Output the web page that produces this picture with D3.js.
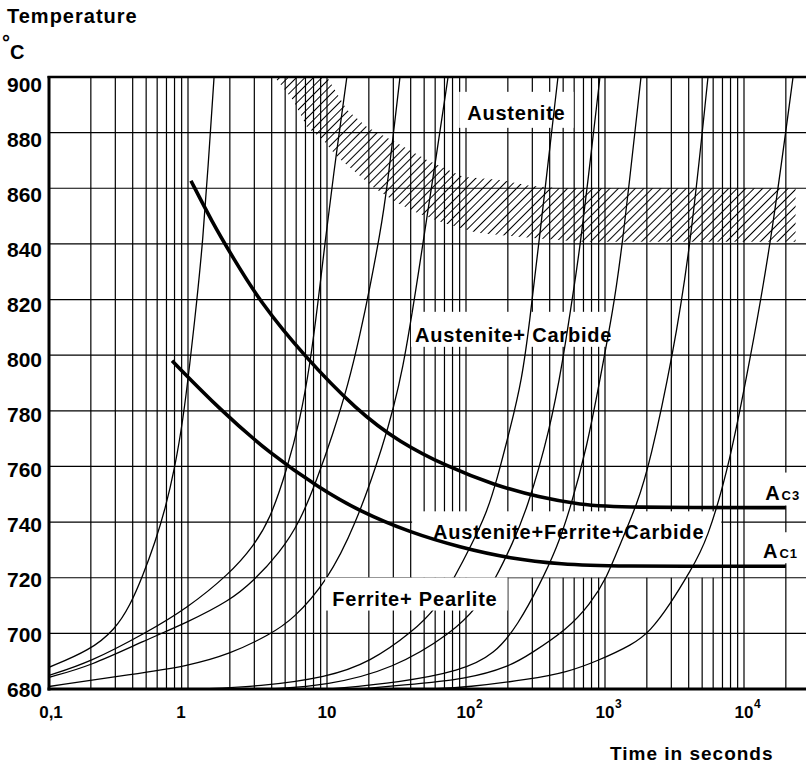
<!DOCTYPE html>
<html>
<head>
<meta charset="utf-8">
<script src="https://d3js.org/d3.v7.min.js"></script>
<style>
body, html {
    margin: 0;
    padding: 0;
    background: #fff;
}
svg {
    display: block;
    font-family: "Liberation Sans", Arial, sans-serif;
    font-weight: bold;
}
.grid line {
  stroke: #000;
  stroke-width: 1.2;
}
.thin {
  fill: none;
  stroke: #000;
  stroke-width: 1.3;
}
.thick {
  fill: none;
  stroke: #000;
  stroke-width: 3.6;
}
.lab {
  font-size: 20px;
  letter-spacing: 0.8px;
}
</style>
</head>

<body>
<div id="chart"></div>
<script>

var width = 806,
    height = 764;

// axis ticks
var tempTicks = [680, 700, 720, 740, 760, 780, 800, 820, 840, 860, 880, 900];
var timeTicks = [0.1, 1, 10, 100, 1000, 10000];
var timeBase = ["0,1", "1", "10", "10", "10", "10"];
var timeExp = ["", "", "", "2", "3", "4"];

// heating curves: [time in s, temperature in °C]
var curveA = [[0.1,687.8],[0.197,693.9],[0.299,701.4],[0.383,710.0],[0.474,720.8],[0.579,732.7],[0.684,744.5],[0.805,759.6],[0.921,776.8],[1.03,796.6],[1.16,819.9],[1.28,841.5],[1.39,866.6],[1.54,900]];
var curveB = [[0.1,684.9],[0.197,689.6],[0.491,700.0],[0.984,709.0],[2.0,721.5],[2.94,731.2],[3.89,740.9],[5.15,758.9],[6.4,776.8],[7.55,796.6],[8.61,818.9],[9.68,840.4],[11.0,863.0],[13.9,900]];
var curveC = [[0.1,684.2],[0.197,688.2],[0.491,697.5],[0.984,703.9],[2.0,711.8],[2.94,718.7],[4.59,729.1],[6.4,740.2],[8.47,755.3],[11.0,771.5],[14.2,789.4],[17.3,807.4],[20.4,824.6],[24.0,843.3],[27.0,859.4],[33.5,900]];
var curveD = [[0.1,680.9],[0.402,685.3],[0.984,688.2],[2.0,692.5],[3.89,699.6],[5.69,705.0],[10,718.7],[15.9,738.4],[25.3,767.1],[35.2,793.0],[48.2,837.9],[59.8,868.4],[74.3,900]];
var curveE = [[1.2,680],[3.3,680.9],[10,684.2],[20.4,689.6],[41.6,700.7],[61.8,709.3],[83.4,720.5],[110,732.0],[142,743.8],[167,755.3],[207,773.2],[253,791.2],[288,812.7],[330,837.9],[459,900]];
var curveF = [[3.9,680],[10,681.3],[29.9,687.1],[80.5,700.4],[120,709.3],[167,720.5],[214,732.0],[275,744.5],[402,773.2],[499,798.4],[579,819.9],[661,837.9],[920,900]];
var curveG = [[10.5,680],[33.5,682.4],[90.6,686.4],[162,692.5],[237,703.2],[340,717.6],[452,730.9],[560,744.5],[743,767.1],[920,791.2],[1143,816.3],[1324,837.9],[1816,900]];
var curveH = [[17.3,680],[33.5,681.3],[102,683.5],[207,688.2],[288,692.5],[533,701.4],[780,710.4],[1033,720.1],[1282,732.0],[1698,746.3],[2109,761.4],[3083,800.2],[4093,837.9],[5508,900]];
var curveI = [[55.1,680],[102,680.6],[288,683.5],[533,686.0],[875,690.0],[1589,696.0],[2109,700.7],[2940,710.4],[4093,722.3],[5420,733.0],[7925,761.4],[11040,798.4],[15380,837.9],[22540,900]];

// transformation lines
var ac3 = [[1.05,862.7],[1.49,847.9],[2.11,835.0],[3.3,819.2],[6.71,800.2],[16.4,780.1],[33.5,768.6],[73,760.0],[156,753.5],[340,748.8],[661,746.3],[1282,745.2],[20000,745.2]];
var ac1 = [[0.768,798.0],[1.7,780.4],[3.89,764.6],[8.91,752.1],[17.3,743.8],[39.5,736.3],[90.6,730.9],[207,726.9],[499,724.8],[1033,724.1],[20000,724.1]];

// hatched austenitizing band
var bandUpper = [[10,900],[13.9,888.2],[19.4,882.0],[31.9,876.3],[52.4,870.2],[95.1,864.1],[176,863.0],[288,860.9],[474,860],[23500,860]];
var bandLower = [[4.2,900],[5.69,891.7],[7.18,882.0],[9.35,877.4],[11.8,871.3],[15.4,866.6],[21.4,860.5],[31.9,854.8],[44.4,851.2],[68.4,847.6],[120,844.0],[288,842.2],[661,840.8],[23500,840.8]];

var thinCurves = [curveA, curveB, curveC, curveD, curveE, curveF, curveG, curveH, curveI];

var plot = {left: 49, right: 806, top: 77, bottom: 689};

var x = d3.scaleLog().domain([0.1, 10000]).range([49, 744]);
var y = d3.scaleLinear().domain([680, 900]).range([689, 77]);
// tick labels sit a little off the grid towards the top
var yLab = d3.scaleLinear().domain([680, 900]).range([689, 84.5]);

var svg = d3.select('#chart').append('svg')
    .attr('width', width)
    .attr('height', height);

var defs = svg.append('defs');
defs.append('clipPath').attr('id', 'plotclip')
  .append('rect')
    .attr('x', plot.left).attr('y', plot.top)
    .attr('width', plot.right - plot.left).attr('height', plot.bottom - plot.top);

var pat = defs.append('pattern')
    .attr('id', 'hatch')
    .attr('patternUnits', 'userSpaceOnUse')
    .attr('width', 6).attr('height', 6)
    .attr('patternTransform', 'rotate(45)');
pat.append('line')
    .attr('x1', 0).attr('y1', 0).attr('x2', 0).attr('y2', 6)
    .attr('stroke', '#000').attr('stroke-width', 1.3)
    .attr('shape-rendering', 'crispEdges');

// grid
var vLines = [];
timeTicks.forEach(function(d) {
  for (var m = 1; m <= 9; m++) {
    var v = +(m * d).toPrecision(3);
    if (v > 0.1 && x(v) < plot.right) vLines.push(v);
  }
});

var grid = svg.append('g').attr('class', 'grid');
grid.selectAll('line.v').data(vLines).enter().append('line')
    .attr('class', 'v')
    .attr('x1', function(d) { return x(d); })
    .attr('x2', function(d) { return x(d); })
    .attr('y1', plot.top).attr('y2', plot.bottom);
grid.selectAll('line.h').data(tempTicks).enter().append('line')
    .attr('class', 'h')
    .attr('x1', plot.left).attr('x2', plot.right)
    .attr('y1', function(d) { return y(d); })
    .attr('y2', function(d) { return y(d); });

// hatched band
var bandPath = d3.line()
    .x(function(d) { return x(d[0]); })
    .y(function(d) { return y(d[1]); });
svg.append('path')
    .datum(bandUpper.concat(bandLower.slice().reverse()))
    .attr('clip-path', 'url(#plotclip)')
    .attr('fill', 'url(#hatch)')
    .attr('d', function(d) { return bandPath(d) + 'Z'; });

var boxesUnder = svg.append('g');

var line = d3.line()
    .x(function(d) { return x(d[0]); })
    .y(function(d) { return y(d[1]); })
    .curve(d3.curveBasis);

var curves = svg.append('g').attr('clip-path', 'url(#plotclip)');
curves.selectAll('path.thin').data(thinCurves).enter().append('path')
    .attr('class', 'thin')
    .attr('d', line);

var boxesOver = svg.append('g');

curves = svg.append('g').attr('clip-path', 'url(#plotclip)');
curves.selectAll('path.thick').data([ac3, ac1]).enter().append('path')
    .attr('class', 'thick')
    .attr('d', line);

// frame
svg.append('line').attr('x1', plot.left).attr('x2', plot.left)
    .attr('y1', plot.top - 1).attr('y2', plot.bottom + 1.5)
    .attr('stroke', '#000').attr('stroke-width', 3);
svg.append('line').attr('x1', plot.left - 1.5).attr('x2', plot.right)
    .attr('y1', plot.bottom).attr('y2', plot.bottom)
    .attr('stroke', '#000').attr('stroke-width', 3);
svg.append('line').attr('x1', plot.left - 1.5).attr('x2', plot.right)
    .attr('y1', plot.top).attr('y2', plot.top)
    .attr('stroke', '#000').attr('stroke-width', 2.4);

// axis labels
svg.selectAll('text.yt').data(tempTicks).enter().append('text')
    .attr('class', 'yt')
    .attr('x', 42)
    .attr('y', function(d) { return yLab(d) + 7.5; })
    .attr('text-anchor', 'end')
    .style('font-size', '21px')
    .text(function(d) { return d; });

var xt = svg.selectAll('g.xt').data(timeTicks).enter().append('g')
    .attr('class', 'xt');
xt.append('text')
    .attr('x', function(d, i) { return x(d) + (i == 1 ? -7 : (i == 0 ? 2 : 0)); })
    .attr('y', 718)
    .attr('text-anchor', 'middle')
    .style('font-size', '17px')
    .text(function(d, i) { return timeBase[i]; });
xt.append('text')
    .attr('x', function(d) { return x(d) + 10; })
    .attr('y', 708)
    .style('font-size', '12px')
    .text(function(d, i) { return timeExp[i]; });

svg.append('text').attr('x', 7).attr('y', 23)
    .style('font-size', '20px').style('letter-spacing', '1px')
    .text('Temperature');
var unit = svg.append('text').attr('x', 2).attr('y', 59)
    .style('font-size', '20px');
unit.append('tspan').attr('dy', -10).text('°');
unit.append('tspan').attr('dy', 10).text('C');
svg.append('text').attr('x', 610).attr('y', 760)
    .style('font-size', '19px').style('letter-spacing', '1px')
    .text('Time in seconds');

// region labels, with white boxes that break the grid
// pad = [top, right, bottom, left]
var regions = [
  {text: 'Austenite', t: 102, T: 884.6, pad: [10, 8, 4, 8], over: false},
  {text: 'Austenite+ Carbide', t: 43, T: 804.8, pad: [12, 8, 1, 4], over: false},
  {text: 'Austenite+Ferrite+Carbide', t: 58, T: 733.8, pad: [10, 17, 34, 21], over: false},
  {text: 'Ferrite+ Pearlite', t: 10.9, T: 710, pad: [10, 10, 1, 7], over: true}
];

regions.forEach(function(r) {
  var tx = svg.append('text').attr('class', 'lab')
      .attr('x', x(r.t)).attr('y', y(r.T))
      .text(r.text);
  var bb = tx.node().getBBox();
  (r.over ? boxesOver : boxesUnder).append('rect')
      .attr('x', bb.x - r.pad[3]).attr('y', bb.y - r.pad[0])
      .attr('width', bb.width + r.pad[1] + r.pad[3])
      .attr('height', bb.height + r.pad[0] + r.pad[2])
      .attr('fill', '#fff');
});

var acLabels = [
  {sub: 'C3', t: 14200, T: 748.1, pad: [9, 6, 2, 10]},
  {sub: 'C1', t: 13700, T: 727, pad: [8, 6, 1, 10]}
];
acLabels.forEach(function(r) {
  var tx = svg.append('text')
      .attr('x', x(r.t)).attr('y', y(r.T))
      .style('font-size', '20px');
  tx.append('tspan').text('A');
  tx.append('tspan').attr('dx', 2).style('font-size', '13px').style('letter-spacing', '1px').text(r.sub);
  var bb = tx.node().getBBox();
  boxesUnder.append('rect')
      .attr('x', bb.x - r.pad[3]).attr('y', bb.y - r.pad[0])
      .attr('width', bb.width + r.pad[1] + r.pad[3])
      .attr('height', bb.height + r.pad[0] + r.pad[2])
      .attr('fill', '#fff');
});

</script>

</body>
</html>
